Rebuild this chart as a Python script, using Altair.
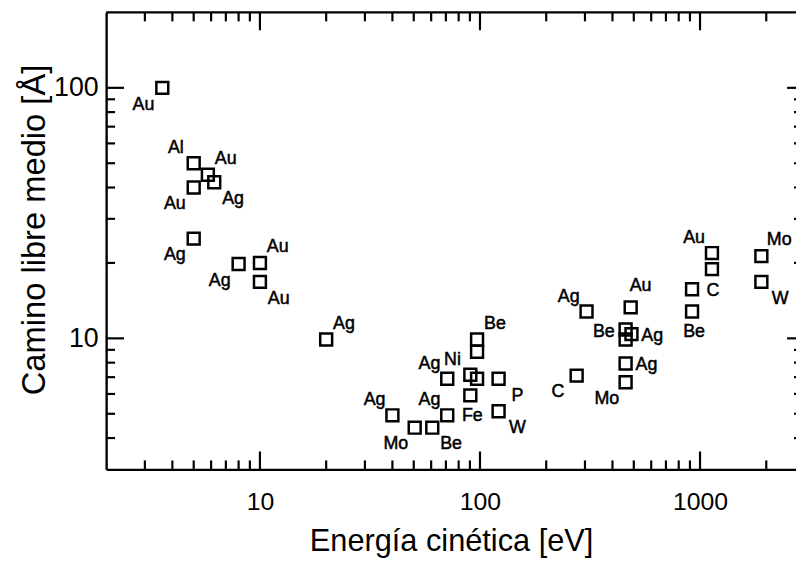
import altair as alt
import pandas as pd

# ---- data ----
energy = [3.6, 5.0, 5.8, 6.2, 5.0, 5.0, 8.0, 10, 10, 20, 40, 50.5, 60.7, 71, 71,
          90.4, 97, 90.4, 97, 97, 121.5, 121.5, 305, 275, 484, 459, 459, 488,
          459, 459, 920, 920, 1133, 1133, 1900, 1900]
imfp = [100, 50, 45, 42, 40, 25, 19.8, 20, 16.8, 9.9, 4.93, 4.4, 4.4, 4.93, 6.9,
        7.16, 6.9, 5.92, 9.9, 8.84, 6.9, 5.12, 12.8, 7.1, 13.3, 10.85, 9.9, 10.4,
        7.94, 6.68, 15.7, 12.8, 21.9, 18.9, 21.3, 16.8]
element = ["Au", "Al", "Au", "Ag", "Au", "Ag", "Ag", "Au", "Au", "Ag", "Ag", "Mo",
           "Be", "Ag", "Ag", "Ni", "", "Fe", "Be", "", "P", "W", "Ag", "C", "Au",
           "Be", "", "Ag", "Ag", "Mo", "C", "Be", "Au", "", "Mo", "W"]
placement = ["ll", "ul", "ur", "lr", "ll", "ll", "ll", "ur", "lr", "ur", "ul", "ll",
             "lr", "ul", "ul", "ul", "", "b", "ur", "", "lr", "lr", "ul", "ll", "t",
             "l", "", "r", "r", "ll", "r", "b", "ul", "", "ur", "lr"]

x_major = [10, 100, 1000]
x_minor = [3, 4, 5, 6, 7, 8, 9, 20, 30, 40, 50, 60, 70, 80, 90,
           200, 300, 400, 500, 600, 700, 800, 900, 2000]
y_major = [10, 100]
y_minor = [4, 5, 6, 7, 8, 9, 20, 30, 40, 50, 60, 70, 80, 90]
x_labels = [10, 100, 1000]
y_labels = [10, 100]

# ---- layout ----
W, H = 696, 461
FONT = "Arial, Liberation Sans, sans-serif"
xscale = alt.Scale(type="log", domain=[2, 2730], nice=False)
yscale = alt.Scale(type="log", domain=[3, 200], nice=False)

df = pd.DataFrame({"E": energy, "L": imfp, "el": element, "pl": placement})

points = alt.Chart(df).mark_point(
    shape="square", filled=False, size=144, strokeWidth=2.5, color="black", opacity=1
).encode(
    x=alt.X("E:Q", scale=xscale, axis=alt.Axis(
        values=x_labels, format="d", ticks=False, tickSize=0, grid=False,
        domain=True, domainColor="black", domainWidth=2.4,
        labelFont=FONT, labelFontSize=25, labelColor="black", labelPadding=20,
        title="Energía cinética [eV]", titleFont=FONT, titleFontSize=31,
        titleFontWeight="normal", titleColor="black", titleY=82,
        titleBaseline="alphabetic")),
    y=alt.Y("L:Q", scale=yscale, axis=alt.Axis(
        values=y_labels, format="d", ticks=False, tickSize=0, grid=False,
        domain=True, domainColor="black", domainWidth=2.4,
        labelFont=FONT, labelFontSize=27, labelColor="black", labelPadding=8,
        title="Camino libre medio [Å]", titleFont=FONT, titleFontSize=33,
        titleFontWeight="normal", titleColor="black", titleAngle=270,
        titleX=-62, titleY=219, titleAlign="center", titleBaseline="alphabetic")),
)

offsets = {"ll": (-19, 17), "ul": (-18, -15), "ur": (18, -16), "lr": (19, 17),
           "l": (-22, 3), "r": (21, 2), "t": (10, -21), "b": (2, 21)}

label_layers = []
for code, (dx, dy) in offsets.items():
    label_layers.append(
        alt.Chart(df).transform_filter(alt.datum.pl == code).mark_text(
            font=FONT, fontSize=18, color="black", stroke="black", strokeWidth=0.5,
            align="center", baseline="middle", dx=dx, dy=dy
        ).encode(
            x=alt.X("E:Q", scale=xscale),
            y=alt.Y("L:Q", scale=yscale),
            text="el:N",
        )
    )

def xticks(vals, length, bottom=True):
    d = pd.DataFrame({"v": vals})
    if bottom:
        y0, y1 = H, H - length
    else:
        y0, y1 = 0, length
    return alt.Chart(d).mark_rule(color="black", strokeWidth=2.2).encode(
        x=alt.X("v:Q", scale=xscale), y=alt.value(y0), y2=alt.value(y1))

def yticks(vals, x0, x1):
    d = pd.DataFrame({"v": vals})
    return alt.Chart(d).mark_rule(color="black", strokeWidth=2.2).encode(
        y=alt.Y("v:Q", scale=yscale), x=alt.value(x0), x2=alt.value(x1))

tick_layers = [
    xticks(x_major, 18, True), xticks(x_minor, 9, True),
    xticks(x_major, 18, False), xticks(x_minor, 9, False),
    yticks(y_major, 0, 18), yticks(y_minor, 0, 9),
    yticks(y_major, W - 9, W), yticks(y_minor, W - 2, W),
]

top_frame = alt.Chart(pd.DataFrame({"a": [0]})).mark_rule(
    color="black", strokeWidth=2.4
).encode(x=alt.value(0), x2=alt.value(W), y=alt.value(0))

chart = alt.layer(points, *label_layers, *tick_layers, top_frame).properties(
    width=W, height=H,
    padding={"left": 99, "top": 2, "right": 0, "bottom": 90},
    autosize=alt.AutoSizeParams(type="none"),
    background="white",
).configure_view(stroke=None)

chart.save("out.html", embed_options={"renderer": "svg", "actions": False})
